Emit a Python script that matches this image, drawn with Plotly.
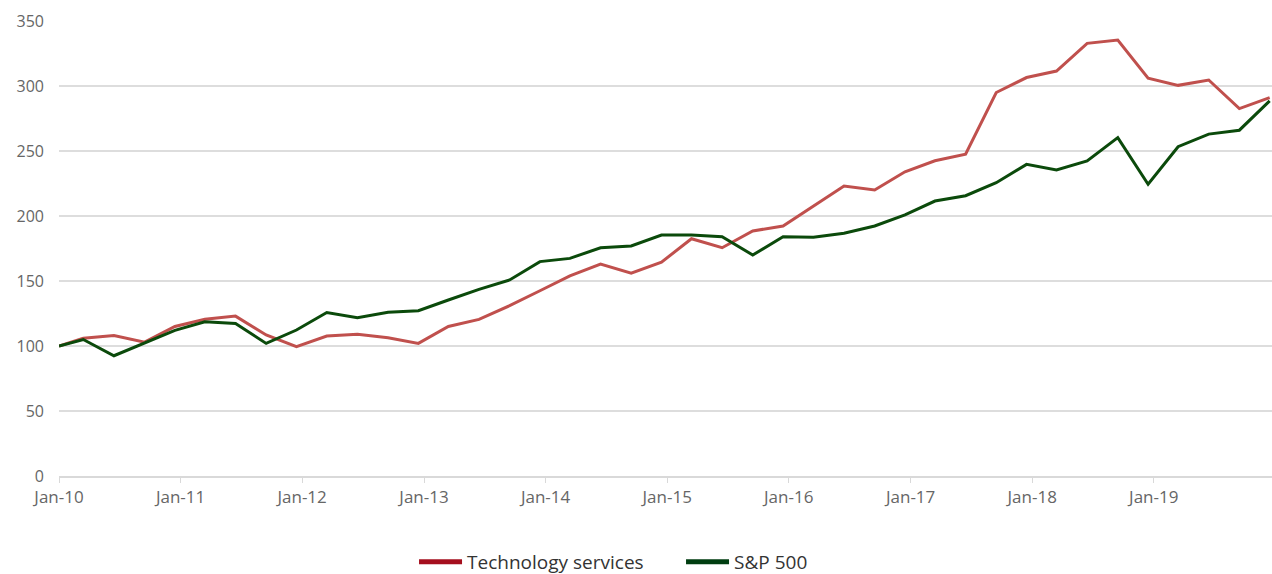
import plotly.graph_objects as go

dates = ["2010-01-01"] + [f"{y}-{m:02d}-15" for y in range(2010, 2020) for m in (3, 6, 9, 12)]

tech_services = [100, 106, 108, 103, 115, 120.5, 123, 108.5, 99.5, 107.7,
                 109, 106.4, 102, 115, 120.5, 131, 142.5, 154, 163, 156,
                 164.5, 182.5, 175.6, 188.5, 192.3, 207.7, 223, 220, 234, 242.5,
                 247.5, 295, 306.5, 311.5, 332.8, 335.4, 306, 300.5, 304.6, 282.6,
                 291]

sp500 = [100, 105, 92.5, 102.5, 112, 118.7, 117.4, 102, 112.3, 125.8,
         121.8, 125.9, 127.2, 135.4, 143.6, 150.8, 164.9, 167.4, 175.6, 176.9,
         185.4, 185.4, 184.1, 170, 184.1, 183.6, 186.7, 192.3, 200.8, 211.5,
         215.6, 225.6, 239.7, 235.4, 242.3, 260.3, 224.4, 253.3, 263, 266,
         288.5]

x_tick_vals = [f"{y}-01-01" for y in range(2010, 2020)]
x_tick_text = [f"Jan-{y % 100:02d}" for y in range(2010, 2020)]
y_tick_vals = [0, 50, 100, 150, 200, 250, 300, 350]

series_names = ["Technology services", "S&P 500"]
line_colors = ["#C0504D", "#0B4A0B"]
legend_colors = ["#A50F1E", "#003D10"]

fig = go.Figure()
for name, vals, c in zip(series_names, [tech_services, sp500], line_colors):
    fig.add_trace(go.Scatter(x=dates, y=vals, mode="lines", name=name,
                             line=dict(color=c, width=3), showlegend=False))
for name, c in zip(series_names, legend_colors):
    fig.add_trace(go.Scatter(x=[None], y=[None], mode="lines", name=name,
                             line=dict(color=c, width=5), showlegend=True))

font_family = "'Open Sans', Lato, sans-serif"
fig.update_layout(
    width=1272, height=574,
    margin=dict(l=59, r=0, t=21, b=98, autoexpand=False),
    paper_bgcolor="white", plot_bgcolor="white",
    font=dict(family=font_family, size=16, color="#666666"),
    showlegend=True,
    legend=dict(orientation="h", xref="container", yref="container",
                x=0.3255, xanchor="left", y=0.021, yanchor="middle",
                font=dict(size=19, color="#333333"), itemwidth=43,
                entrywidth=209, entrywidthmode="pixels",
                bgcolor="rgba(0,0,0,0)"),
    xaxis=dict(type="date", range=["2010-01-01", "2019-12-22"],
               tickvals=x_tick_vals, ticktext=x_tick_text,
               showgrid=False, showline=True, linecolor="#D9D9D9", linewidth=2,
               ticks="outside", ticklen=5, tickcolor="#D9D9D9", tickwidth=1,
               tickfont=dict(size=17, color="#666666"), zeroline=False),
    yaxis=dict(range=[0, 350], tickvals=y_tick_vals, showgrid=True,
               gridcolor="#DDDDDD", gridwidth=2, zeroline=False, showline=False,
               ticks="", ticklabelstandoff=14,
               tickfont=dict(size=16, color="#666666")),
)

fig.write_html("out.html")
